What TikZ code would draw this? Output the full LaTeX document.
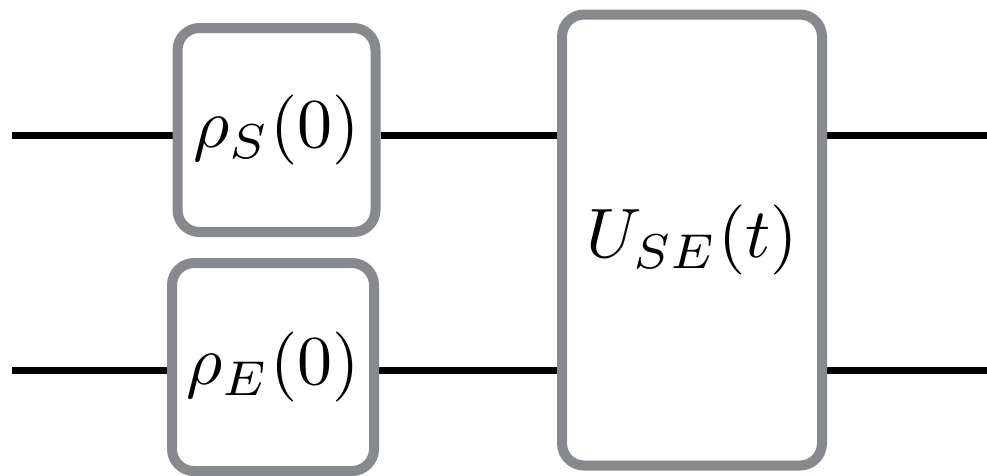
\documentclass[tikz,border=0pt]{standalone}
\usepackage{graphicx}
\usetikzlibrary{backgrounds}
\definecolor{boxgray}{RGB}{134,137,141}
\newcommand{\gatelabel}[1]{\scalebox{7}{$#1$}}
\tikzset{
  gatebox/.style={draw=boxgray, fill=white, line width=10pt, rounded corners=22pt,
    inner sep=0pt},
  wire/.style={draw=black, line width=7.5pt, line cap=butt}
}
\begin{document}
\begin{tikzpicture}[x=1pt, y=-1pt]
  \useasboundingbox (0,0) rectangle (987,475);

  % gates
  \node[gatebox, minimum width=198pt, minimum height=204pt] (rhoS) at (276.5,130) {\gatelabel{\rho_S(0)}};
  \node[gatebox, minimum width=202pt, minimum height=208pt] (rhoE) at (273,367) {\gatelabel{\rho_E(0)}};
  \node[gatebox, minimum width=260pt, minimum height=451pt] (U) at (692,240) {\gatelabel{U_{SE}(t)}};

  % wire end points
  \coordinate (sIn) at (12,135.5);
  \coordinate (sOut) at (987,135.5);
  \coordinate (eIn) at (12,370.5);
  \coordinate (eOut) at (987,370.5);

  % quantum wires, behind the gates
  \begin{pgfonlayer}{background}
    \draw[wire] (sIn) -- (sIn -| rhoS.west);
    \draw[wire] (sIn -| rhoS.east) -- (sIn -| U.west);
    \draw[wire] (sIn -| U.east) -- (sOut);
    \draw[wire] (eIn) -- (eIn -| rhoE.west);
    \draw[wire] (eIn -| rhoE.east) -- (eIn -| U.west);
    \draw[wire] (eIn -| U.east) -- (eOut);
  \end{pgfonlayer}
\end{tikzpicture}
\end{document}
